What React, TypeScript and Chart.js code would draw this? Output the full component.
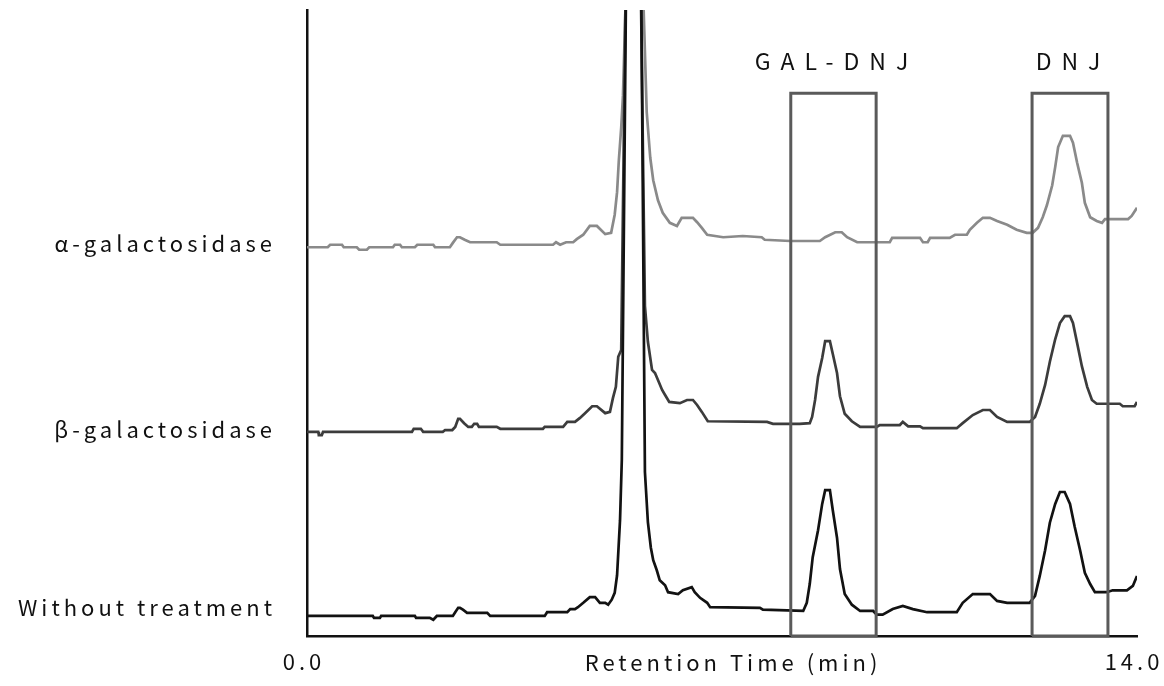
import React, { useEffect, useRef } from "react";
import { Chart, registerables } from "chart.js";

Chart.register(...registerables);

// ---- data ----
const seriesNames = ["α-galactosidase", "β-galactosidase", "Without treatment"];
const seriesColors = ["#8a8a8a", "#3c3c3c", "#121212"];
const nameLevels = [62.6, 32.9, 4.6];
const xTicks = [0, 14];
const xTitle = "Retention Time (min)";
const peakNames = ["GAL-DNJ", "DNJ"];
const peakBoxStart = [8.16, 12.23];
const peakBoxEnd = [9.6, 13.51];
const peakBoxTop = 86.7;

// retention time (min), detector signal (relative, offset per trace)
const alphaTrace: [number, number][] = [
  [0.0, 62.1], [0.35, 62.1], [0.39, 62.5], [0.59, 62.5], [0.62, 62.1], [0.84, 62.1],
  [0.88, 61.7], [1.01, 61.7], [1.05, 62.1], [1.45, 62.1], [1.48, 62.5], [1.57, 62.5],
  [1.6, 62.1], [1.82, 62.1], [1.86, 62.5], [2.13, 62.5], [2.16, 62.1], [2.41, 62.1],
  [2.46, 62.8], [2.53, 63.7], [2.58, 63.7], [2.66, 63.3], [2.75, 62.9], [3.2, 62.9],
  [3.26, 62.5], [4.15, 62.5], [4.2, 62.9], [4.27, 62.5], [4.37, 62.9], [4.49, 62.9],
  [4.55, 63.4], [4.66, 64.1], [4.77, 65.5], [4.89, 65.5], [5.03, 64.2], [5.13, 64.4],
  [5.19, 67.3], [5.23, 70.9], [5.26, 76.0], [5.3, 81.2], [5.33, 86.4], [5.52, 150],
  [5.73, 83.7], [5.79, 76.4], [5.84, 72.8], [5.92, 69.6], [6.0, 67.6], [6.12, 66.0],
  [6.24, 65.5], [6.32, 66.8], [6.51, 66.8], [6.58, 66.1], [6.66, 65.2], [6.75, 64.1],
  [7.02, 63.7], [7.35, 63.9], [7.67, 63.7], [7.72, 63.3], [8.15, 63.1], [8.65, 63.1],
  [8.74, 63.7], [8.91, 64.5], [9.02, 64.5], [9.11, 63.7], [9.28, 62.9], [9.83, 62.9],
  [9.87, 63.6], [10.34, 63.6], [10.39, 62.9], [10.47, 62.9], [10.51, 63.6], [10.84, 63.6],
  [10.93, 64.1], [11.13, 64.1], [11.18, 64.9], [11.3, 66.0], [11.4, 66.8], [11.52, 66.8],
  [11.64, 66.3], [11.81, 65.7], [11.97, 64.9], [12.14, 64.4], [12.24, 64.4], [12.33, 65.2],
  [12.41, 66.9], [12.48, 68.8], [12.57, 72.0], [12.62, 74.9], [12.67, 78.1], [12.75, 79.9],
  [12.87, 79.9], [12.92, 78.8], [12.99, 75.6], [13.07, 72.4], [13.12, 69.2], [13.21, 66.9],
  [13.32, 66.3], [13.41, 66.0], [13.46, 66.6], [13.85, 66.6], [13.91, 67.1], [14.0, 68.4],
];

const betaTrace: [number, number][] = [
  [0.0, 32.6], [0.19, 32.6], [0.2, 32.1], [0.25, 32.1], [0.27, 32.6], [1.77, 32.6],
  [1.8, 33.1], [1.92, 33.1], [1.96, 32.6], [2.29, 32.6], [2.33, 32.9], [2.45, 32.9],
  [2.5, 33.4], [2.55, 34.7], [2.58, 34.7], [2.65, 34.0], [2.72, 33.4], [2.78, 33.4],
  [2.82, 33.9], [2.87, 33.9], [2.9, 33.4], [3.2, 33.4], [3.26, 33.1], [3.98, 33.1],
  [4.01, 33.4], [4.32, 33.4], [4.39, 34.2], [4.52, 34.2], [4.6, 34.8], [4.69, 35.6],
  [4.81, 36.7], [4.89, 36.7], [5.03, 35.6], [5.11, 35.8], [5.16, 38.0], [5.21, 39.8],
  [5.25, 44.6], [5.3, 45.7], [5.5, 200], [5.7, 52.7], [5.75, 47.0], [5.82, 42.5],
  [5.87, 42.0], [5.92, 40.9], [5.99, 39.3], [6.04, 38.5], [6.11, 37.4], [6.29, 37.2],
  [6.41, 37.7], [6.51, 37.7], [6.58, 36.9], [6.66, 35.8], [6.76, 34.3], [7.76, 34.2],
  [7.86, 33.9], [8.31, 33.9], [8.48, 34.0], [8.52, 35.0], [8.57, 37.7], [8.62, 41.4],
  [8.69, 44.4], [8.74, 47.1], [8.82, 47.1], [8.87, 45.0], [8.94, 42.0], [8.99, 38.3],
  [9.07, 35.5], [9.19, 34.3], [9.33, 33.4], [9.61, 33.4], [9.66, 33.7], [10.0, 33.7],
  [10.05, 34.2], [10.14, 33.5], [10.34, 33.5], [10.39, 33.2], [10.96, 33.2], [11.06, 34.0],
  [11.23, 35.3], [11.4, 36.1], [11.52, 36.1], [11.64, 35.0], [11.81, 34.2], [12.19, 34.2],
  [12.28, 35.0], [12.36, 37.1], [12.45, 40.1], [12.53, 43.8], [12.62, 47.4], [12.7, 50.0],
  [12.78, 51.1], [12.87, 51.1], [12.92, 50.0], [12.99, 46.8], [13.07, 43.1], [13.16, 39.8],
  [13.24, 37.7], [13.32, 37.1], [13.71, 37.1], [13.76, 36.7], [13.96, 36.7], [14.0, 37.4],
];

const untreatedTrace: [number, number][] = [
  [0.0, 3.2], [1.11, 3.2], [1.13, 2.9], [1.23, 2.9], [1.25, 3.2], [1.82, 3.2],
  [1.84, 2.9], [2.07, 2.9], [2.13, 2.6], [2.19, 3.2], [2.46, 3.2], [2.5, 3.8],
  [2.55, 4.5], [2.58, 4.5], [2.63, 4.2], [2.7, 3.7], [3.04, 3.7], [3.09, 3.2],
  [4.01, 3.2], [4.05, 3.8], [4.39, 3.8], [4.44, 4.3], [4.52, 4.3], [4.57, 4.6],
  [4.66, 5.3], [4.77, 6.2], [4.86, 6.2], [4.94, 5.3], [5.03, 5.3], [5.08, 5.0],
  [5.14, 5.8], [5.19, 6.9], [5.23, 9.7], [5.28, 18.5], [5.31, 28.1], [5.52, 250],
  [5.7, 26.2], [5.75, 18.2], [5.8, 14.1], [5.84, 12.1], [5.9, 10.5], [5.95, 8.9],
  [6.04, 8.1], [6.09, 7.0], [6.26, 6.7], [6.34, 7.3], [6.49, 7.8], [6.54, 7.0],
  [6.63, 6.1], [6.75, 5.3], [6.8, 4.6], [7.64, 4.5], [7.69, 4.2], [8.37, 4.0],
  [8.43, 5.3], [8.48, 8.3], [8.53, 12.6], [8.62, 16.9], [8.69, 21.1], [8.74, 23.3],
  [8.82, 23.3], [8.87, 20.0], [8.94, 15.7], [8.99, 10.7], [9.07, 6.7], [9.19, 5.0],
  [9.33, 4.0], [9.55, 4.0], [9.61, 3.4], [9.71, 3.4], [9.88, 4.3], [10.05, 4.8],
  [10.22, 4.3], [10.46, 3.8], [10.96, 3.8], [11.06, 5.3], [11.23, 6.7], [11.52, 6.7],
  [11.64, 5.6], [11.81, 5.3], [12.19, 5.3], [12.28, 6.4], [12.36, 9.6], [12.45, 13.7],
  [12.53, 18.1], [12.62, 21.1], [12.7, 23.0], [12.78, 23.0], [12.87, 21.1], [12.95, 17.4],
  [13.04, 13.7], [13.12, 10.1], [13.21, 8.3], [13.29, 7.0], [13.49, 7.0], [13.59, 7.3],
  [13.83, 7.3], [13.93, 8.0], [14.0, 9.6],
];

const traces = [alphaTrace, betaTrace, untreatedTrace];

const FONT = "'Noto Sans CJK JP', 'Noto Sans', sans-serif";

const textPlugin = {
  id: "chromText",
  beforeUpdate(chart: any) {
    chart.ctx.letterSpacing = "4px";
  },
  beforeDraw(chart: any) {
    chart.ctx.letterSpacing = "4px";
  },
  afterDraw(chart: any) {
    const { ctx, scales, chartArea } = chart;
    const x = scales.x;
    ctx.save();
    ctx.fillStyle = "#111111";
    ctx.textAlign = "center";
    ctx.textBaseline = "middle";
    ctx.font = `23px ${FONT}`;
    ctx.letterSpacing = "10px";
    peakNames.forEach((name, i) => {
      const cx = x.getPixelForValue((peakBoxStart[i] + peakBoxEnd[i]) / 2);
      ctx.fillText(name, cx + 3, chartArea.top + 51);
    });
    ctx.font = `22px ${FONT}`;
    ctx.letterSpacing = "4px";
    ctx.fillText(xTitle, (chartArea.left + chartArea.right) / 2 + 11, chartArea.bottom + 27);
    ctx.restore();
  },
};

export default function App() {
  const ref = useRef<HTMLCanvasElement | null>(null);
  useEffect(() => {
    if (!ref.current) return;
    const traceSets = traces.map((tr, i) => ({
      label: seriesNames[i],
      data: tr.map(([t, v]) => ({ x: t, y: v })),
      borderColor: seriesColors[i],
      borderWidth: 2.7,
      pointRadius: 0,
      showLine: true,
      tension: 0,
      fill: false,
      order: 3 - i,
    }));
    const boxSets = peakNames.map((name, i) => ({
      label: name,
      data: [
        { x: peakBoxStart[i], y: 0 },
        { x: peakBoxStart[i], y: peakBoxTop },
        { x: peakBoxEnd[i], y: peakBoxTop },
        { x: peakBoxEnd[i], y: 0 },
        { x: peakBoxStart[i], y: 0 },
      ],
      borderColor: "#5a5a5a",
      borderWidth: 3,
      pointRadius: 0,
      showLine: true,
      tension: 0,
      fill: false,
      order: 0,
      clip: 4,
    }));
    const chart = new Chart(ref.current, {
      type: "scatter",
      data: { datasets: [...boxSets, ...traceSets] as any },
      options: {
        responsive: false,
        animation: false,
        devicePixelRatio: 1,
        layout: { padding: { top: 10, right: 27, left: 0, bottom: 0 } },
        plugins: { legend: { display: false }, tooltip: { enabled: false } },
        scales: {
          x: {
            type: "linear",
            min: 0,
            max: 14,
            afterBuildTicks: (s: any) => {
              s.ticks = xTicks.map((v) => ({ value: v }));
            },
            afterFit: (s: any) => {
              s.height = 50;
              s.paddingLeft = 0;
              s.paddingRight = 0;
              s.paddingTop = 0;
              s.paddingBottom = 0;
            },
            ticks: {
              callback: (v: any) => Number(v).toFixed(1),
              font: { family: FONT, size: 22 },
              color: "#111111",
              padding: 12,
              maxRotation: 0,
              autoSkip: false,
              labelOffset: -3,
            },
            grid: { display: true, drawOnChartArea: false, drawTicks: false },
            border: { display: true, color: "#111111", width: 2.5 },
          },
          y: {
            type: "linear",
            min: 0,
            max: 100,
            afterBuildTicks: (s: any) => {
              s.ticks = nameLevels.map((v) => ({ value: v }));
            },
            afterFit: (s: any) => {
              s.width = 307;
              s.paddingLeft = 0;
              s.paddingRight = 0;
              s.paddingTop = 0;
              s.paddingBottom = 0;
            },
            ticks: {
              callback: (v: any, i: number) => seriesNames[i],
              font: { family: FONT, size: 22 },
              color: "#111111",
              padding: 31,
              autoSkip: false,
            },
            grid: { display: true, drawOnChartArea: false, drawTicks: false },
            border: { display: true, color: "#111111", width: 2.5 },
          },
        },
      },
      plugins: [textPlugin],
    } as any);
    return () => chart.destroy();
  }, []);
  return (
    <div style={{ position: "fixed", left: 0, top: 0, width: 1164, height: 686, background: "#ffffff" }}>
      <canvas ref={ref} width={1164} height={686} />
    </div>
  );
}
